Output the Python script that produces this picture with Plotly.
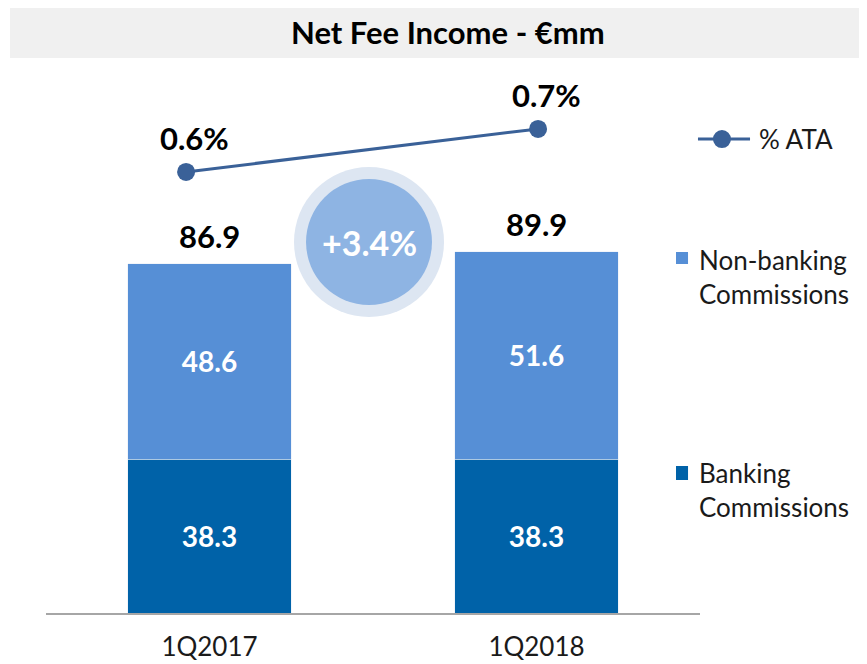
import plotly.graph_objects as go

quarters = ["1Q2017", "1Q2018"]
banking = [38.3, 38.3]
non_banking = [48.6, 51.6]
totals = [86.9, 89.9]
ata = [0.6, 0.7]
ata_labels = ["0.6%", "0.7%"]
growth = "+3.4%"

FONT = "Lato"
dark_blue = "#0062A8"
light_blue = "#568FD6"
line_blue = "#3A6198"
text_col = "#1A1A1A"

# the page has an 8px body margin, so the figure is drawn 8px smaller
fig = go.Figure()

inside_font = dict(color="white", size=28, family=FONT, weight="bold")
fig.add_trace(go.Bar(x=quarters, y=banking, name="Banking Commissions",
                     marker_color=dark_blue, width=0.5,
                     texttemplate="%{y:.1f}",
                     textposition="inside", insidetextanchor="middle",
                     textfont=inside_font))
fig.add_trace(go.Bar(x=quarters, y=non_banking, name="Non-banking Commissions",
                     marker_color=light_blue, width=0.5,
                     texttemplate="%{y:.1f}",
                     textposition="inside", insidetextanchor="middle",
                     textfont=inside_font))

fig.add_trace(go.Scatter(x=quarters, y=ata, name="% ATA", xaxis="x2", yaxis="y2",
                         mode="lines+markers",
                         line=dict(color=line_blue, width=3),
                         marker=dict(size=18, color=line_blue)))

big_font = dict(size=31, color="black", family=FONT, weight="bold")

# totals above bars
for q, t in zip(quarters, totals):
    fig.add_annotation(x=q, y=t, text=f"{t:.1f}", showarrow=False,
                       yanchor="middle", yshift=28, font=big_font)

# % ATA labels
for q, v, lab in zip(quarters, ata, ata_labels):
    fig.add_annotation(x=q, y=v, xref="x2", yref="y2", text=lab,
                       showarrow=False, yanchor="middle", yshift=34, xshift=8,
                       font=big_font)

shapes = [
    # title bar
    dict(type="rect", xref="paper", yref="paper", x0=-0.055, x1=1.2554,
         y0=1.0221, y1=1.116, fillcolor="#F0F0F0", line_width=0, layer="below"),
    # growth bubble
    dict(type="circle", xref="paper", yref="paper",
         x0=0.4939 - 0.1147, x1=0.4939 + 0.1147, y0=0.6832 - 0.1381, y1=0.6832 + 0.1381,
         fillcolor="#DDE6F2", line_width=0),
    dict(type="circle", xref="paper", yref="paper",
         x0=0.4939 - 0.0963, x1=0.4939 + 0.0963, y0=0.6832 - 0.116, y1=0.6832 + 0.116,
         fillcolor="#8EB4E3", line_width=0),
    # legend
    dict(type="line", xref="paper", yref="paper", x0=0.9969, x1=1.0765,
         y0=0.8729, y1=0.8729, line=dict(color=line_blue, width=3)),
    dict(type="circle", xref="paper", yref="paper", x0=1.0336 - 0.0138, x1=1.0336 + 0.0138,
         y0=0.8729 - 0.0166, y1=0.8729 + 0.0166, fillcolor=line_blue, line_width=0),
    dict(type="rect", xref="paper", yref="paper", x0=0.9633, x1=0.9817,
         y0=0.6427, y1=0.6648, fillcolor=light_blue, line_width=0),
    dict(type="rect", xref="paper", yref="paper", x0=0.9633, x1=0.9817,
         y0=0.2449, y1=0.2707, fillcolor=dark_blue, line_width=0),
]

fig.add_annotation(xref="paper", yref="paper", x=0.4939, y=0.6832, text=growth,
                   xanchor="center", yanchor="middle", showarrow=False,
                   font=dict(size=34, color="white", family=FONT, weight="bold"))
fig.add_annotation(xref="paper", yref="paper", x=0.6147, y=1.07,
                   xanchor="center", yanchor="middle",
                   text="Net Fee Income - €mm", showarrow=False,
                   font=dict(size=31, color="black", family=FONT, weight="bold"))
legend_font = dict(size=26, color=text_col, family=FONT)
fig.add_annotation(xref="paper", yref="paper", x=1.0872, y=0.8729, xanchor="left",
                   yanchor="middle", text="% ATA", showarrow=False, font=legend_font)
fig.add_annotation(xref="paper", yref="paper", x=0.9954, y=0.6197, xanchor="left",
                   yanchor="middle", align="left", text="Non-banking<br>Commissions",
                   showarrow=False, font=legend_font)
fig.add_annotation(xref="paper", yref="paper", x=0.9954, y=0.2274, xanchor="left",
                   yanchor="middle", align="left", text="Banking<br>Commissions",
                   showarrow=False, font=legend_font)

fig.update_layout(
    width=859, height=656,
    margin=dict(l=38, r=167, t=62, b=51),
    barmode="stack",
    showlegend=False,
    plot_bgcolor="white", paper_bgcolor="white",
    font=dict(family=FONT),
    shapes=shapes,
    xaxis=dict(showline=True, linecolor="#A6A6A6", linewidth=2, range=[-0.5, 1.5],
               tickfont=dict(size=26, color=text_col), ticklabelstandoff=10,
               automargin=False, showgrid=False, zeroline=False),
    yaxis=dict(range=[0, 135.07], visible=False, showgrid=False, automargin=False),
    xaxis2=dict(overlaying="x", type="category", range=[-0.398, 1.46],
                visible=False),
    yaxis2=dict(overlaying="y", range=[-0.4256, 0.837], visible=False),
)

fig.write_html("out.html")
